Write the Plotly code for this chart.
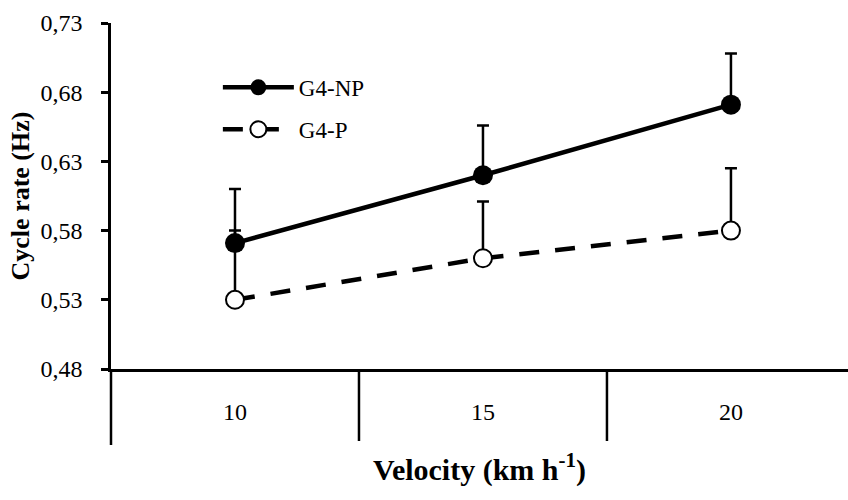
import plotly.graph_objects as go

velocity = ["10", "15", "20"]
np_mean = [0.571, 0.620, 0.671]
np_err = [0.039, 0.036, 0.037]
p_mean = [0.530, 0.560, 0.580]
p_err = [0.050, 0.041, 0.045]
y_ticks = [0.48, 0.53, 0.58, 0.63, 0.68, 0.73]

FONT = "Liberation Serif, Times New Roman, serif"

fig = go.Figure()

fig.add_trace(go.Scatter(
    x=velocity, y=p_mean, name="G4-P", mode="lines+markers",
    line=dict(color="black", width=4.5, dash="20px,16px"),
    marker=dict(size=18, color="white", line=dict(color="black", width=2)),
    error_y=dict(type="data", symmetric=False, array=p_err, arrayminus=[0, 0, 0],
                 color="black", thickness=2.5, width=6),
    legendrank=2, legendgroup="p",
))
fig.add_trace(go.Scatter(
    x=velocity, y=np_mean, name="G4-NP", mode="lines+markers",
    line=dict(color="black", width=4.5),
    marker=dict(size=20, color="black"),
    error_y=dict(type="data", symmetric=False, array=np_err, arrayminus=[0, 0, 0],
                 color="black", thickness=2.5, width=6),
    legendrank=1, legendgroup="np",
))

# category separators extending below the axis
for xv in [0.5, 1.5]:
    fig.add_shape(type="line", xref="x", yref="paper", x0=xv, x1=xv,
                  y0=0, y1=-72 / 346, line=dict(color="black", width=2.5))
fig.add_shape(type="line", xref="paper", yref="paper", x0=0, x1=0,
              y0=0, y1=-76 / 346, line=dict(color="black", width=2.5))

fig.update_layout(
    width=848, height=500,
    margin=dict(l=111, r=0, t=23, b=131),
    plot_bgcolor="white", paper_bgcolor="white",
    separators=",.",
    font=dict(family=FONT, size=24, color="black"),
    showlegend=True,
    legend=dict(x=0.145, y=0.876, xanchor="left", yanchor="top",
                bgcolor="rgba(0,0,0,0)", itemwidth=71,
                tracegroupgap=9, font=dict(size=23, family=FONT)),
    xaxis=dict(
        type="category", range=[-0.5, 2.472],
        showline=True, linecolor="black", linewidth=2.5,
        ticks="", showgrid=False, zeroline=False,
        ticklabelstandoff=19,
        tickfont=dict(size=24, family=FONT),
        title=dict(text="<b>Velocity (km h<sup>-1</sup>)</b>", standoff=36,
                   font=dict(size=30, family=FONT)),
    ),
    yaxis=dict(
        range=[0.48, 0.73], tickvals=y_ticks, tickformat=".2f",
        showline=True, linecolor="black", linewidth=2.5,
        ticks="outside", ticklen=7, tickwidth=2.5, tickcolor="black",
        showgrid=False, zeroline=False,
        ticklabelstandoff=14,
        tickfont=dict(size=24, family=FONT),
        title=dict(text="<b>Cycle rate (Hz)</b>", standoff=4,
                   font=dict(size=26, family=FONT)),
    ),
)

fig.write_html("out.html", config={"displayModeBar": False},
               post_script="document.body.style.margin='0';")
